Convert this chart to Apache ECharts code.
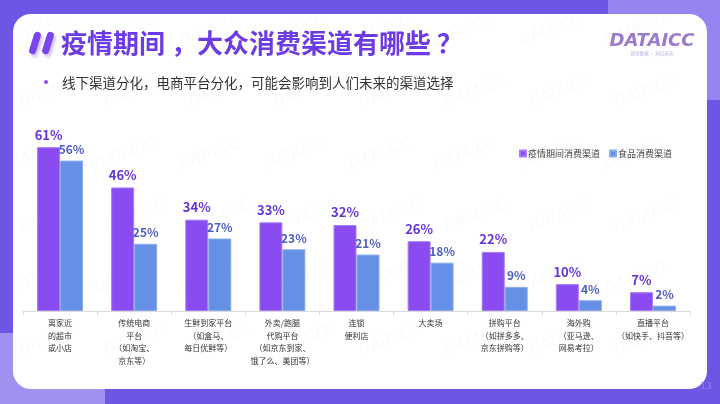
<!DOCTYPE html>
<html><head><meta charset="utf-8">
<script src="https://cdn.jsdelivr.net/npm/echarts@6/dist/echarts.min.js"></script>
<style>html,body{margin:0;padding:0;background:#6c57e4;}#c{width:720px;height:404px;}</style>
</head><body><div id="c"></div>
<script>
const categories = [
  '离家近\n的超市\n或小店',
  '传统电商\n平台\n（如淘宝、\n京东等）',
  '生鲜到家平台\n（如盒马、\n每日优鲜等）',
  '外卖/跑腿\n代购平台\n（如京东到家、\n饿了么、美团等）',
  '连锁\n便利店',
  '大卖场',
  '拼购平台\n（如拼多多、\n京东拼购等）',
  '海外购\n（亚马逊、\n网易考拉）',
  '直播平台\n（如快手、抖音等）'
];
const seriesNames = ['疫情期间消费渠道', '食品消费渠道'];
const pandemicValues = [61, 46, 34, 33, 32, 26, 22, 10, 7];
const foodValues = [56, 25, 27, 23, 21, 18, 9, 4, 2];
const titleText = '疫情期间 ，大众消费渠道有哪些 ？';
const subtitleText = '线下渠道分化，电商平台分化，可能会影响到人们未来的渠道选择';

const FONT = '"Noto Sans CJK SC", "Noto Sans", sans-serif';
const chart = echarts.init(document.getElementById('c'), null, {renderer: 'canvas'});

const graphics = [
  {type: 'rect', shape: {x: 0, y: 0, width: 720, height: 404}, style: {fill: '#6c57e4'}, z: -10},
  {type: 'rect', shape: {x: 608, y: 0, width: 112, height: 100}, style: {fill: '#9585f0'}, z: -9},
  {type: 'rect', shape: {x: 0, y: 333, width: 105, height: 71}, style: {fill: '#a190ef'}, z: -9},
  {type: 'rect', shape: {x: 13, y: 14, width: 694, height: 375, r: 18}, style: {fill: '#ffffff'}, z: -8},
  // title slashes
  {type: 'rect', shape: {x: -3.5, y: -11.5, width: 7, height: 23, r: 3.5}, x: 35, y: 43, rotation: -0.3, style: {fill: '#7a44ee', shadowColor: 'rgba(150,120,235,0.45)', shadowOffsetX: 2, shadowOffsetY: 3, shadowBlur: 3}, z: 2},
  {type: 'rect', shape: {x: -3.5, y: -11.5, width: 7, height: 23, r: 3.5}, x: 48, y: 43, rotation: -0.3, style: {fill: '#7a44ee', shadowColor: 'rgba(150,120,235,0.45)', shadowOffsetX: 2, shadowOffsetY: 3, shadowBlur: 3}, z: 2},
  {type: 'text', x: 61, y: 43, style: {text: titleText, font: 'bold 26px ' + FONT, fill: '#6c3ae6', textVerticalAlign: 'middle', shadowColor: 'rgba(150,120,235,0.45)', shadowOffsetX: 2, shadowOffsetY: 3, shadowBlur: 3}, z: 2},
  {type: 'circle', shape: {cx: 46, cy: 82, r: 2}, style: {fill: '#8a4cf0'}, z: 2},
  {type: 'text', x: 62, y: 83, style: {text: subtitleText, font: '13.5px ' + FONT, fill: '#333333', textVerticalAlign: 'middle'}, z: 2},
  // logo
  {type: 'text', x: 652, y: 41, style: {text: 'DATAICC', font: 'italic bold 18px "DejaVu Sans", sans-serif', fill: '#9a7ccb', textAlign: 'center', textVerticalAlign: 'middle'}, z: 2},
  {type: 'text', x: 652, y: 53, style: {text: '探索数据 · 洞见未来', font: '4.5px ' + FONT, fill: '#c0aee0', textAlign: 'center', textVerticalAlign: 'middle'}, z: 2},
  {type: 'text', x: 706, y: 387, style: {text: '13', font: '9px "DejaVu Sans", sans-serif', fill: '#8f80ea', textAlign: 'center', textVerticalAlign: 'middle'}, z: 2}
];
// faint watermarks
for (let r = 0; r < 6; r++) {
  for (let c = 0; c < 9; c++) {
    const x = 40 + c * 85 + (r % 2) * 10;
    const y = 30 + r * 62;
    if (x > 700) continue;
    graphics.push({type: 'text', x: x, y: y, rotation: 0.35, style: {text: 'DATAICC', font: 'italic 15px "DejaVu Sans", sans-serif', fill: 'rgba(120,120,140,0.035)', textAlign: 'center', textVerticalAlign: 'middle'}, z: 1, silent: true});
  }
}

const option = {
  animation: false,
  textStyle: {fontFamily: FONT},
  graphic: {elements: graphics},
  legend: {
    data: seriesNames,
    top: 144, right: 43,
    icon: 'rect', itemWidth: 6, itemHeight: 6, itemGap: 9,
    textStyle: {fontSize: 9, color: '#444444', fontFamily: FONT, padding: [0, 0, 0, -3]}
  },
  grid: {left: 23, right: 30, top: 123, bottom: 93, containLabel: false},
  xAxis: {
    type: 'category',
    data: categories,
    axisLine: {lineStyle: {color: '#d9d9d9'}},
    axisTick: {show: true, alignWithLabel: false, length: 4, lineStyle: {color: '#d9d9d9'}},
    axisLabel: {interval: 0, fontSize: 8, lineHeight: 12.5, color: '#333333', margin: 6, fontFamily: FONT}
  },
  yAxis: {type: 'value', min: 0, max: 70, show: false, splitLine: {show: false}},
  series: [
    {
      name: seriesNames[0], type: 'bar', data: pandemicValues,
      barWidth: 23, barGap: '0%',
      itemStyle: {color: '#8a4cf0', borderColor: '#a57cf6', borderWidth: 1},
      label: {show: true, position: 'top', distance: 6, formatter: '{c}%', fontSize: 13, fontWeight: 'bold', color: '#6434d8', fontFamily: FONT}
    },
    {
      name: seriesNames[1], type: 'bar', data: foodValues,
      barWidth: 23,
      itemStyle: {color: '#6590e5', borderColor: '#8cacee', borderWidth: 1},
      label: {show: true, position: 'top', distance: 5, formatter: '{c}%', fontSize: 12, fontWeight: 'bold', color: '#4d5fc2', fontFamily: FONT}
    }
  ]
};
chart.setOption(option);
</script>
</body></html>
